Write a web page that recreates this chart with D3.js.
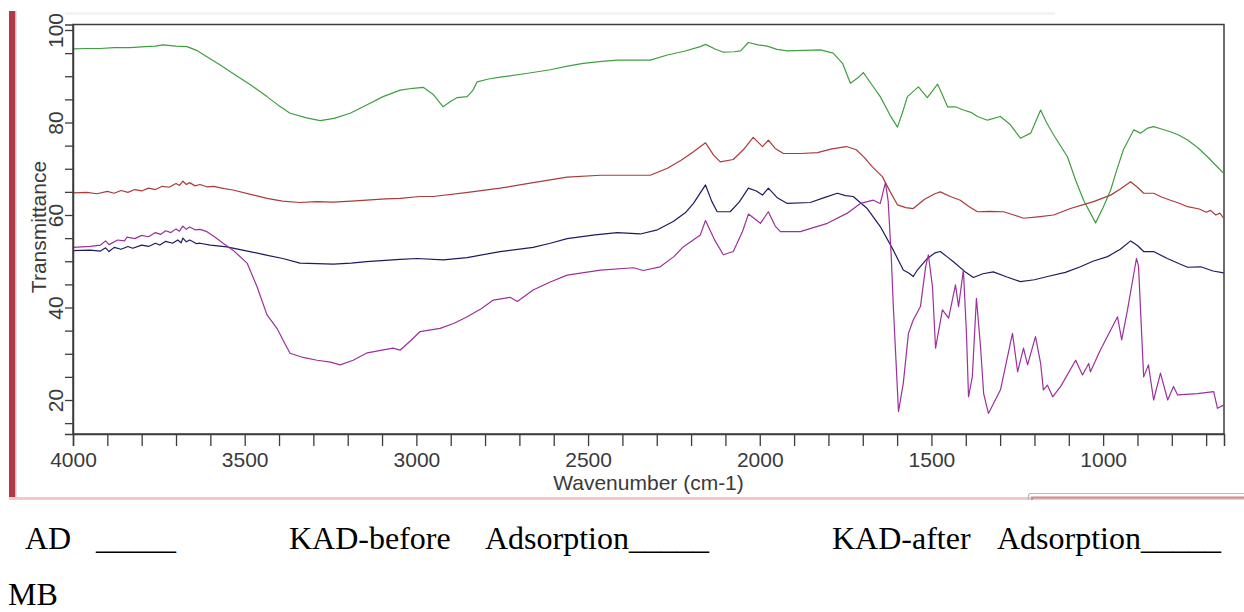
<!DOCTYPE html>
<html>
<head>
<meta charset="utf-8">
<script src="https://cdn.jsdelivr.net/npm/d3@7"></script>
<style>
  html, body { margin: 0; padding: 0; background: #ffffff; }
  svg { display: block; }
</style>
</head>
<body>
<svg id="chart" width="1244" height="612"></svg>
<script>
// FTIR spectra: wavenumber (cm-1) vs transmittance (%)
const seriesNames = ["AD", "KAD-before Adsorption", "KAD-after Adsorption", "MB"];

const adSpectrum = [
  [4000, 95.9], [3960, 96.0], [3921, 96.0], [3880, 96.2], [3834, 96.2], [3790, 96.4],
  [3760, 96.5], [3738, 96.8], [3700, 96.5], [3668, 96.4], [3640, 95.6], [3610, 94.2],
  [3570, 92.4], [3534, 90.6], [3480, 88.0], [3435, 85.6], [3400, 83.6], [3368, 82.0],
  [3320, 81.0], [3280, 80.4], [3240, 80.9], [3193, 82.0], [3145, 83.8], [3097, 85.6],
  [3047, 87.0], [3010, 87.4], [2980, 87.6], [2950, 86.0], [2922, 83.4], [2900, 84.6],
  [2881, 85.4], [2852, 85.6], [2835, 87.0], [2823, 88.8], [2790, 89.4], [2756, 89.8],
  [2680, 90.6], [2610, 91.4], [2560, 92.2], [2514, 92.8], [2460, 93.2], [2415, 93.5],
  [2319, 93.5], [2269, 94.6], [2220, 95.4], [2173, 96.4], [2158, 96.9], [2130, 95.9],
  [2106, 95.2], [2075, 95.3], [2056, 95.5], [2033, 97.3], [2005, 96.8], [1978, 96.5],
  [1950, 95.8], [1920, 95.5], [1870, 95.6], [1823, 95.7], [1786, 95.0], [1759, 92.8],
  [1736, 88.5], [1715, 89.6], [1698, 90.8], [1672, 88.0], [1649, 85.6], [1620, 81.5],
  [1599, 79.0], [1585, 82.0], [1570, 85.6], [1538, 87.7], [1512, 85.4], [1482, 88.3],
  [1466, 85.6], [1453, 83.4], [1430, 83.4], [1407, 82.7], [1385, 82.2], [1366, 81.3],
  [1337, 80.5], [1299, 81.3], [1270, 79.5], [1241, 76.6], [1211, 77.7], [1182, 82.7],
  [1165, 80.0], [1144, 77.3], [1104, 72.6], [1080, 67.5], [1057, 63.2], [1022, 58.3],
  [1000, 61.6], [978, 65.4], [960, 69.8], [941, 74.1], [911, 78.4], [891, 77.7],
  [870, 78.8], [853, 79.1], [830, 78.6], [804, 78.0], [780, 77.3], [754, 76.2],
  [725, 74.6], [696, 72.6], [670, 70.6], [649, 69.0]
];

const kadBeforeSpectrum = [
  [4000, 64.8], [3960, 64.9], [3930, 64.6], [3900, 65.1], [3880, 64.7], [3860, 65.3],
  [3840, 64.9], [3820, 65.5], [3800, 65.2], [3780, 65.8], [3760, 65.5], [3740, 66.2],
  [3720, 66.0], [3700, 66.8], [3690, 66.4], [3680, 67.3], [3670, 66.6], [3660, 67.0],
  [3645, 66.3], [3630, 66.6], [3610, 66.1], [3590, 66.2], [3560, 65.7], [3534, 65.4],
  [3480, 64.4], [3435, 63.6], [3390, 63.0], [3339, 62.7], [3290, 62.9], [3242, 62.8],
  [3190, 63.0], [3145, 63.2], [3090, 63.5], [3047, 63.6], [2990, 64.0], [2951, 64.0],
  [2850, 64.9], [2756, 65.8], [2660, 67.0], [2561, 68.2], [2464, 68.6], [2390, 68.6],
  [2319, 68.6], [2269, 70.1], [2230, 71.8], [2193, 73.7], [2158, 75.6], [2135, 73.0],
  [2115, 71.5], [2077, 72.0], [2048, 74.1], [2019, 76.8], [1992, 74.8], [1975, 76.2],
  [1955, 74.4], [1931, 73.3], [1880, 73.3], [1832, 73.5], [1790, 74.3], [1748, 74.8],
  [1719, 74.1], [1695, 72.4], [1672, 70.4], [1643, 68.3], [1620, 65.0], [1599, 62.2],
  [1575, 61.6], [1553, 61.4], [1520, 63.4], [1490, 64.6], [1474, 65.0], [1445, 64.0],
  [1416, 63.2], [1390, 61.8], [1366, 60.7], [1330, 60.8], [1290, 60.7], [1260, 60.0],
  [1232, 59.3], [1190, 59.6], [1144, 60.0], [1095, 61.4], [1060, 62.2], [1028, 62.9],
  [978, 64.3], [950, 65.6], [920, 67.2], [900, 66.0], [882, 64.7], [853, 64.7],
  [830, 63.9], [804, 63.2], [780, 62.6], [754, 61.8], [720, 61.3], [700, 60.6],
  [687, 61.0], [672, 60.0], [660, 60.4], [649, 59.3]
];

const kadAfterSpectrum = [
  [4000, 52.3], [3950, 52.4], [3920, 52.2], [3905, 52.9], [3895, 52.1], [3880, 53.0],
  [3860, 52.6], [3840, 53.2], [3826, 52.8], [3800, 53.5], [3780, 53.2], [3760, 53.9],
  [3747, 53.5], [3730, 54.3], [3710, 53.9], [3695, 54.6], [3685, 54.0], [3680, 55.0],
  [3670, 54.2], [3660, 54.6], [3640, 53.8], [3630, 53.9], [3600, 53.5], [3552, 53.1],
  [3485, 52.1], [3430, 51.2], [3389, 50.6], [3339, 49.6], [3290, 49.5], [3242, 49.4],
  [3190, 49.6], [3145, 49.9], [3090, 50.2], [3047, 50.4], [2998, 50.6], [2922, 50.3],
  [2852, 50.8], [2756, 52.1], [2660, 53.0], [2610, 53.9], [2561, 54.9], [2480, 55.7],
  [2415, 56.2], [2348, 55.9], [2298, 56.8], [2252, 58.6], [2215, 60.6], [2193, 62.5],
  [2158, 66.5], [2140, 63.0], [2124, 60.7], [2086, 60.7], [2060, 62.8], [2033, 65.8],
  [2010, 65.2], [1992, 64.3], [1975, 65.8], [1950, 63.8], [1920, 62.5], [1853, 62.7],
  [1810, 63.8], [1774, 64.7], [1750, 64.2], [1728, 64.0], [1687, 61.4], [1649, 57.5],
  [1611, 52.4], [1582, 48.1], [1565, 47.4], [1553, 46.7], [1541, 48.1], [1512, 50.6],
  [1490, 51.8], [1474, 52.1], [1455, 51.0], [1436, 49.9], [1400, 47.6], [1378, 46.5],
  [1350, 47.3], [1320, 47.7], [1280, 46.6], [1241, 45.6], [1200, 46.0], [1162, 46.7],
  [1110, 47.6], [1066, 48.8], [1030, 50.0], [987, 51.0], [950, 52.6], [920, 54.4],
  [900, 53.4], [882, 52.1], [853, 52.1], [813, 50.6], [780, 49.5], [754, 48.7],
  [716, 48.8], [680, 47.9], [649, 47.5]
];

const mbSpectrum = [
  [4000, 53.0], [3950, 53.2], [3920, 53.5], [3905, 54.4], [3895, 53.6], [3870, 54.6],
  [3850, 54.4], [3843, 55.2], [3820, 54.9], [3800, 55.6], [3780, 55.3], [3760, 56.2],
  [3745, 55.8], [3730, 56.6], [3715, 56.2], [3700, 57.0], [3690, 56.5], [3680, 57.6],
  [3670, 56.9], [3660, 57.4], [3645, 56.8], [3630, 56.9], [3610, 56.4], [3590, 55.4],
  [3563, 53.9], [3534, 52.4], [3493, 49.6], [3464, 44.5], [3435, 38.4], [3406, 35.5],
  [3385, 32.5], [3368, 30.1], [3330, 29.2], [3289, 28.6], [3250, 28.2], [3222, 27.6],
  [3184, 28.6], [3143, 30.2], [3100, 30.8], [3068, 31.2], [3047, 30.8], [3020, 32.6],
  [2989, 34.8], [2931, 35.5], [2890, 36.6], [2852, 38.0], [2810, 39.8], [2776, 41.6],
  [2727, 42.2], [2706, 41.3], [2660, 43.8], [2610, 45.5], [2561, 47.0], [2464, 48.1],
  [2368, 48.6], [2339, 48.0], [2290, 48.8], [2250, 51.0], [2223, 53.1], [2173, 55.7],
  [2158, 58.8], [2130, 54.4], [2106, 51.4], [2077, 52.1], [2050, 56.5], [2033, 60.2],
  [1998, 58.2], [1975, 60.7], [1955, 57.6], [1940, 56.4], [1882, 56.4], [1803, 58.2],
  [1745, 60.4], [1707, 62.5], [1669, 63.2], [1649, 62.5], [1634, 67.0], [1626, 63.0],
  [1617, 51.0], [1611, 40.2], [1596, 17.5], [1582, 23.6], [1567, 34.4], [1553, 37.3],
  [1532, 40.2], [1517, 48.8], [1509, 51.4], [1497, 44.5], [1488, 31.2], [1468, 39.5],
  [1450, 37.7], [1430, 44.9], [1421, 40.2], [1407, 48.1], [1398, 34.4], [1392, 20.7],
  [1381, 25.0], [1369, 42.0], [1357, 31.5], [1348, 21.4], [1334, 17.1], [1299, 22.2],
  [1264, 34.4], [1249, 26.1], [1232, 31.2], [1220, 27.6], [1197, 33.7], [1182, 27.9],
  [1174, 22.2], [1162, 23.2], [1147, 20.7], [1124, 22.9], [1080, 28.6], [1060, 25.4],
  [1042, 27.9], [1037, 26.1], [1008, 30.8], [958, 38.0], [946, 33.0], [929, 39.5],
  [903, 50.6], [897, 49.0], [882, 25.0], [868, 27.6], [853, 20.0], [833, 25.8],
  [812, 20.0], [795, 22.9], [783, 21.1], [725, 21.4], [678, 21.8], [667, 18.2],
  [649, 18.9]
];

const spectra = [adSpectrum, kadBeforeSpectrum, kadAfterSpectrum, mbSpectrum];
const seriesColors = ["#3f9f3f", "#ab3b3b", "#1c1c5e", "#9c309c"];

const xTickValues = d3.range(4000, 650, -100);
const xTickLabels = [4000, 3500, 3000, 2500, 2000, 1500, 1000];
const yTickValues = d3.range(15, 101, 5);
const yTickLabels = [20, 40, 60, 80, 100];

const captionItems = [
  { text: "AD", x: 25 },
  { text: "_____", x: 96 },
  { text: "KAD-before", x: 289 },
  { text: "Adsorption_____", x: 485 },
  { text: "KAD-after", x: 832 },
  { text: "Adsorption_____", x: 997 }
];

const svg = d3.select("#chart");
const plot = { left: 73, right: 1224, top: 24.5, bottom: 434 };

// window chrome around the plot
svg.append("rect").attr("x", 65).attr("y", 12).attr("width", 990).attr("height", 3).attr("fill", "#f3f3f3");
svg.append("rect").attr("x", 9).attr("y", 11).attr("width", 6).attr("height", 489).attr("fill", "#b23a46");
svg.append("rect").attr("x", 15).attr("y", 11).attr("width", 1.5).attr("height", 489).attr("fill", "#b9c3d6");
svg.append("rect").attr("x", 9).attr("y", 497).attr("width", 1235).attr("height", 3).attr("fill", "#f1c9c9");
svg.append("path")
  .attr("d", "M1028.5,500 V496 Q1028.5,493.5 1031,493.5 H1244")
  .attr("fill", "none").attr("stroke", "#b8b8b8").attr("stroke-width", 1.2);
svg.append("path")
  .attr("d", "M1032,500 V497.5 H1244")
  .attr("fill", "none").attr("stroke", "#cf8a8a").attr("stroke-width", 2);

const x = d3.scaleLinear().domain([4000, 648]).range([plot.left, plot.right]);
const y = d3.scaleLinear().domain([12.65, 101.19]).range([plot.bottom, plot.top]);

// frame
svg.append("rect")
  .attr("x", plot.left).attr("y", plot.top)
  .attr("width", plot.right - plot.left).attr("height", plot.bottom - plot.top)
  .attr("fill", "none").attr("stroke", "#3c3c3c").attr("stroke-width", 1.5);

// spectra
const line = d3.line().x(d => x(d[0])).y(d => y(d[1]));
svg.append("clipPath").attr("id", "plotClip")
  .append("rect").attr("x", plot.left).attr("y", plot.top)
  .attr("width", plot.right - plot.left).attr("height", plot.bottom - plot.top);
const curves = svg.append("g").attr("clip-path", "url(#plotClip)");
spectra.forEach((s, i) => {
  curves.append("path")
    .datum(s)
    .attr("fill", "none")
    .attr("stroke", seriesColors[i])
    .attr("stroke-width", 1.2)
    .attr("stroke-linejoin", "round")
    .attr("d", line)
    .append("title").text(seriesNames[i]);
});

// axes
const axisFont = "'Liberation Sans', Arial, sans-serif";
const xAxis = d3.axisBottom(x)
  .tickValues(xTickValues)
  .tickSize(12)
  .tickPadding(6)
  .tickFormat(d => xTickLabels.includes(d) ? String(d) : "");
const gx = svg.append("g").attr("transform", `translate(0,${plot.bottom})`).call(xAxis);
gx.select(".domain").attr("stroke", "#3c3c3c").attr("stroke-width", 1.5);
gx.selectAll(".tick line").attr("stroke", "#3c3c3c").attr("stroke-width", 1.3);
gx.selectAll(".tick text")
  .attr("fill", "#3a3a3a").attr("font-family", axisFont).attr("font-size", 21);

const yAxis = d3.axisLeft(y)
  .tickValues(yTickValues)
  .tickSize(8)
  .tickFormat(d => yTickLabels.includes(d) ? String(d) : "");
const gy = svg.append("g").attr("transform", `translate(${plot.left},0)`).call(yAxis);
gy.select(".domain").attr("stroke", "#3c3c3c").attr("stroke-width", 1.5);
gy.selectAll(".tick line").attr("stroke", "#3c3c3c").attr("stroke-width", 1.3);
gy.selectAll(".tick text")
  .attr("x", null).attr("dy", null)
  .attr("text-anchor", "middle")
  .attr("transform", "translate(-10,0) rotate(-90)")
  .attr("fill", "#3a3a3a").attr("font-family", axisFont).attr("font-size", 21);

// axis titles
svg.append("text")
  .attr("transform", "translate(45.5,227) rotate(-90)")
  .attr("text-anchor", "middle")
  .attr("fill", "#3a3a3a").attr("font-family", axisFont).attr("font-size", 21)
  .text("Transmittance");
svg.append("text")
  .attr("x", (plot.left + plot.right) / 2).attr("y", 490)
  .attr("text-anchor", "middle")
  .attr("fill", "#3a3a3a").attr("font-family", axisFont).attr("font-size", 21)
  .text("Wavenumber (cm-1)");

// caption with the sample names
const caption = svg.append("g")
  .attr("font-family", "'Liberation Serif', 'Times New Roman', serif")
  .attr("font-size", 32).attr("fill", "#000");
caption.selectAll("text.item").data(captionItems).join("text")
  .attr("class", "item")
  .attr("x", d => d.x).attr("y", 549)
  .text(d => d.text);
caption.append("text").attr("x", 8).attr("y", 605).text(seriesNames[3]);
</script>
</body>
</html>
